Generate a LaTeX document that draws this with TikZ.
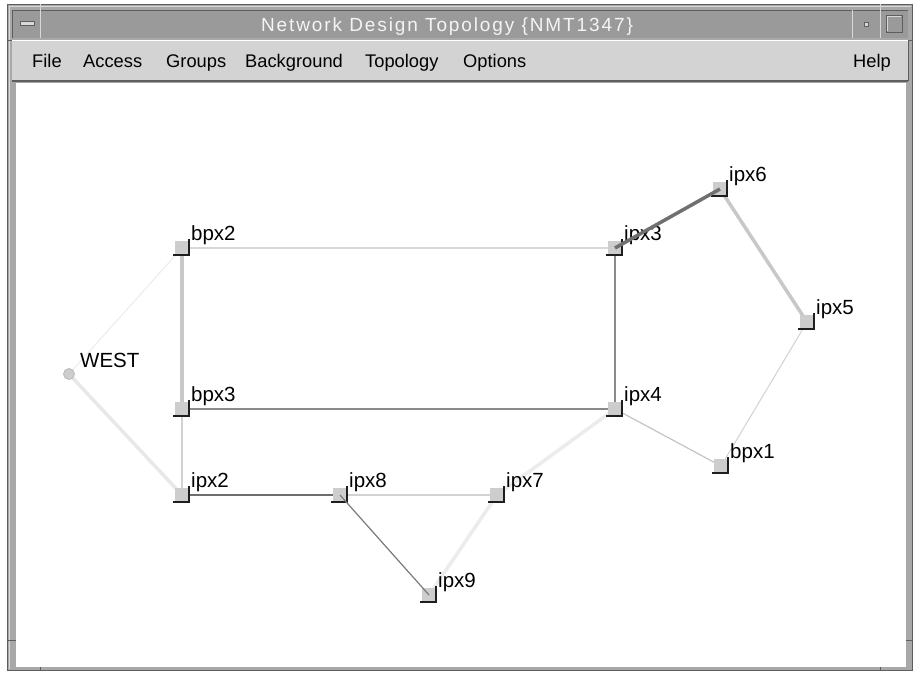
\documentclass[tikz,border=0pt]{standalone}
\usepackage{fontspec}
\setmainfont{Liberation Sans}
\newfontfamily\titlefont[LetterSpace=10]{Liberation Sans}
\usetikzlibrary{backgrounds}
\pgfdeclarelayer{window}
\pgfsetlayers{window,background,main}

\definecolor{framegray}{HTML}{A8A8A8}
\definecolor{framedark}{HTML}{5E5E5E}
\definecolor{framelight}{HTML}{D8D8D8}
\definecolor{titlegray}{HTML}{9A9A9A}
\definecolor{titletext}{HTML}{F4F4F4}
\definecolor{menugray}{HTML}{D3D3D3}
\definecolor{sqfill}{HTML}{CDCDCD}
\definecolor{sqedge}{HTML}{1E1E1E}

\begin{document}
\begin{tikzpicture}[x=1pt,y=-1pt,
  sq/.style={rectangle, fill=sqfill, minimum size=14pt, inner sep=0pt, outer sep=0pt},
  sqshadow/.style={draw=sqedge, line width=1.3pt},
  lbl/.style={font=\fontsize{20.5}{21}\selectfont, inner sep=0pt, anchor=base west},
  menu/.style={font=\fontsize{18.3}{19}\selectfont, inner sep=0pt, anchor=base west},
  link/.style={line cap=butt}]

\useasboundingbox (0,0) rectangle (915,673);

\begin{pgfonlayer}{window}
% page
\fill[white] (0,0) rectangle (915,673);

% window frame
\fill[framegray] (7,4) rectangle (913,671);
\draw[framedark, line width=1pt] (7.5,4.5) rectangle (912.5,670.5);
\draw[framelight, line width=0.8pt] (9,6.5) -- (911,6.5);
\draw[framelight, line width=0.8pt] (9.5,6) -- (9.5,669);
% resize-corner notches
\foreach \xx in {40,880} {
  \draw[framelight, line width=0.8pt] (\xx,4) -- (\xx,10);
  \draw[framedark, line width=0.8pt] (\xx,667) -- (\xx,671);
}
\foreach \yy in {40,640} {
  \draw[framedark, line width=0.8pt] (7,\yy) -- (16,\yy);
  \draw[framedark, line width=0.8pt] (906,\yy) -- (913,\yy);
}

% title bar
\fill[titlegray] (12,10) rectangle (908,38);
\draw[framedark, line width=0.8pt] (12,38) -- (12,10) -- (908,10);
\draw[framelight, line width=0.8pt] (40,10) -- (40,38);
\draw[framelight, line width=0.8pt] (852,10) -- (852,38);
\draw[framelight, line width=0.8pt] (880,10) -- (880,38);
% window menu button
\filldraw[fill=framelight, draw=framedark, line width=0.8pt] (20,21.5) rectangle (34,25.5);
% minimise button
\filldraw[fill=framelight, draw=framedark, line width=0.6pt] (864,22) rectangle (868,26);
% maximise button
\draw[framedark, line width=1pt] (886,15) -- (886,32) -- (902,32) -- (902,15) -- cycle;
\draw[framelight, line width=0.8pt] (887,31) -- (887,16) -- (901,16);

% menu bar
\fill[menugray] (12,40) rectangle (908,81);
\draw[white, line width=0.8pt] (12,40.5) -- (908,40.5);
\draw[framedark, line width=1.2pt] (12,81) -- (908,81);
\draw[framedark, line width=1pt] (908,40) -- (908,81);

% drawing canvas
\fill[white] (16,83) rectangle (906,667);
\end{pgfonlayer}

\node[font=\titlefont\fontsize{19}{20}\selectfont, text=titletext, inner sep=0pt, anchor=base]
  (title) at (447,31) {Network Design Topology \{NMT1347\}};

\node[menu] (m-file)  at (32,67)  {File};
\node[menu] (m-acc)   at (83,67)  {Access};
\node[menu] (m-grp)   at (166,67) {Groups};
\node[menu] (m-bg)    at (245,67) {Background};
\node[menu] (m-topo)  at (365,67) {Topology};
\node[menu] (m-opt)   at (463,67) {Options};
\node[menu] (m-help)  at (853,67) {Help};

% network elements
\node[sq] (bpx2) at (182,248) {};
\node[sq] (bpx3) at (182,409) {};
\node[sq] (ipx2) at (182,495) {};
\node[sq] (ipx8) at (340,495) {};
\node[sq] (ipx7) at (497,495) {};
\node[sq] (ipx9) at (429,595) {};
\node[sq] (ipx4) at (615,409) {};
\node[sq] (ipx3) at (615,248) {};
\node[sq] (ipx6) at (720,189) {};
\node[sq] (ipx5) at (807,322) {};
\node[sq] (bpx1) at (721,466) {};
\node[circle, fill=sqfill, draw={rgb,255:red,185;green,185;blue,185}, line width=0.8pt,
      minimum size=11pt, inner sep=0pt] (west) at (69,374) {};

\foreach \n in {bpx2,bpx3,ipx2,ipx8,ipx7,ipx9,ipx4,ipx3,ipx6,ipx5,bpx1} {
  \draw[sqshadow] ([xshift=-2pt]\n.south west) -- (\n.south east) -- ([yshift=2pt]\n.north east);
  \node[lbl] (t-\n) at ([xshift=2pt,yshift=1pt]\n.north east) {\n};
}
\node[lbl] (t-west) at (80,367) {WEST};

% links
\begin{scope}[on background layer]
  \draw[link, color={rgb,255:red,216;green,216;blue,216}, line width=1.2pt] (bpx2.center) -- (ipx3.center);
  \draw[link, color={rgb,255:red,200;green,200;blue,200}, line width=3.5pt] (bpx2.center) -- (bpx3.center);
  \draw[link, color={rgb,255:red,236;green,236;blue,236}, line width=1pt] (bpx2.center) -- (west.center);
  \draw[link, color={rgb,255:red,232;green,232;blue,232}, line width=3.5pt] (west.center) -- (ipx2.center);
  \draw[link, color={rgb,255:red,138;green,138;blue,138}, line width=1.3pt] (bpx3.center) -- (ipx4.center);
  \draw[link, color={rgb,255:red,210;green,210;blue,210}, line width=1.2pt] (bpx3.center) -- (ipx2.center);
  \draw[link, color={rgb,255:red,110;green,110;blue,110}, line width=1.6pt] (ipx2.center) -- (ipx8.center);
  \draw[link, color={rgb,255:red,210;green,210;blue,210}, line width=2pt] (ipx8.center) -- (ipx7.center);
  \draw[link, color={rgb,255:red,236;green,236;blue,236}, line width=3.5pt] (ipx9.center) -- (ipx7.center);
  \draw[link, color={rgb,255:red,236;green,236;blue,236}, line width=3.5pt] (ipx7.center) -- (ipx4.center);
  \draw[link, color={rgb,255:red,138;green,138;blue,138}, line width=1.3pt] (ipx3.center) -- (ipx4.center);
  \draw[link, color={rgb,255:red,200;green,200;blue,200}, line width=3.5pt] (ipx6.center) -- (ipx5.center);
  \draw[link, color={rgb,255:red,210;green,210;blue,210}, line width=1pt] (ipx5.center) -- (bpx1.center);
  \draw[link, color={rgb,255:red,196;green,196;blue,196}, line width=1.2pt] (ipx4.center) -- (bpx1.center);
\end{scope}
% links drawn over their end squares
\draw[link, color={rgb,255:red,112;green,112;blue,112}, line width=3.5pt] (ipx3.center) -- (ipx6.center);
\draw[link, color={rgb,255:red,122;green,122;blue,122}, line width=1.2pt] (ipx8.center) -- (ipx9.center);

\end{tikzpicture}
\end{document}
